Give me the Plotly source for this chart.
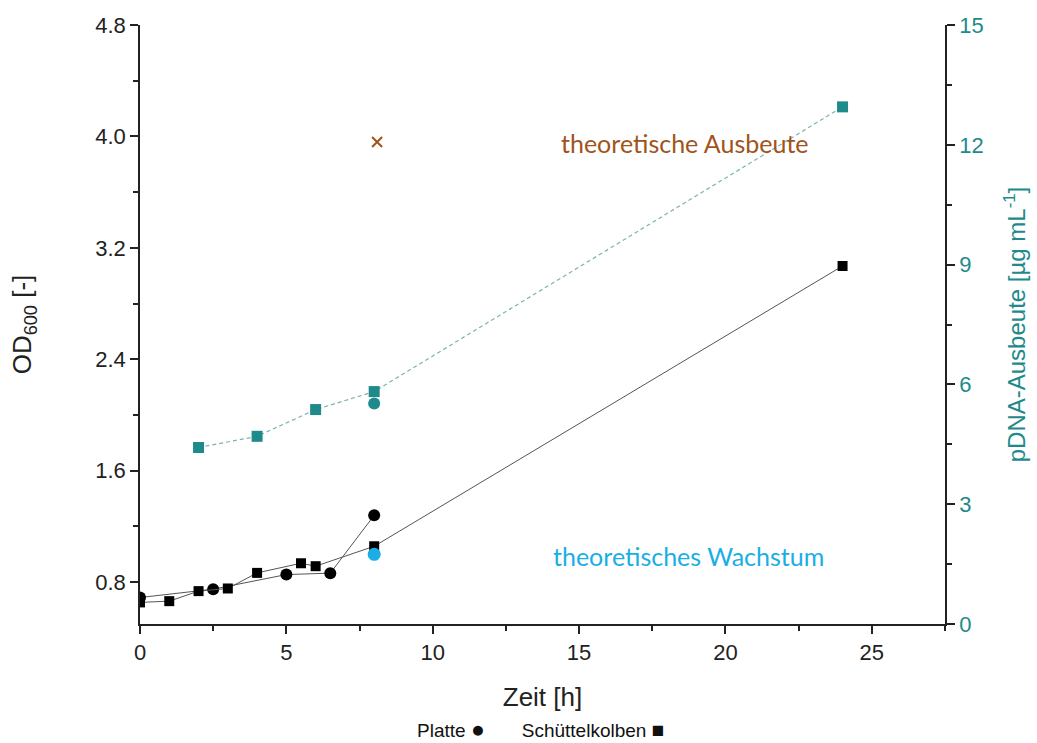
import plotly.graph_objects as go

# Data
platte_t = [0, 2.5, 5, 6.5, 8]
platte_od = [0.69, 0.75, 0.855, 0.865, 1.28]

kolben_t = [0, 1, 2, 3, 4, 5.5, 6, 8, 24]
kolben_od = [0.655, 0.664, 0.736, 0.755, 0.867, 0.936, 0.915, 1.058, 3.07]

theo_growth_t = [8]
theo_growth_od = [1.0]

pdna_t = [2, 4, 6, 8, 24]
pdna_yield = [4.42, 4.70, 5.37, 5.82, 12.95]

pdna_platte_t = [8]
pdna_platte_yield = [5.52]

theo_yield_t = [8.1]
theo_yield = [12.07]

TEAL = "#1E8A8A"
BROWN = "#A0541C"
CYAN = "#1AAEE6"
FONT = "Liberation Sans, Arial, sans-serif"

fig = go.Figure()

fig.add_trace(go.Scatter(x=platte_t, y=platte_od, mode="lines+markers",
                         line=dict(color="#555555", width=1),
                         marker=dict(symbol="circle", size=12, color="black"),
                         name="Platte", showlegend=False))
fig.add_trace(go.Scatter(x=kolben_t, y=kolben_od, mode="lines+markers",
                         line=dict(color="#555555", width=1),
                         marker=dict(symbol="square", size=10, color="black"),
                         name="Schüttelkolben", showlegend=False))
fig.add_trace(go.Scatter(x=theo_growth_t, y=theo_growth_od, mode="markers",
                         marker=dict(symbol="circle", size=13, color=CYAN),
                         showlegend=False))
fig.add_trace(go.Scatter(x=pdna_t, y=pdna_yield, mode="lines+markers", yaxis="y2",
                         line=dict(color="#7DB3AE", width=1.2, dash="4px,3px"),
                         marker=dict(symbol="square", size=11, color=TEAL),
                         showlegend=False))
fig.add_trace(go.Scatter(x=pdna_platte_t, y=pdna_platte_yield, mode="markers", yaxis="y2",
                         marker=dict(symbol="circle", size=12, color=TEAL),
                         showlegend=False))
fig.add_trace(go.Scatter(x=theo_yield_t, y=theo_yield, mode="markers", yaxis="y2",
                         marker=dict(symbol="x-thin", size=10, color=BROWN,
                                     line=dict(color=BROWN, width=2)),
                         showlegend=False))

fig.update_layout(
    width=1037, height=743,
    margin=dict(l=140, r=92, t=25, b=119),
    plot_bgcolor="white", paper_bgcolor="white",
    font=dict(family=FONT, size=21, color="#222222"),
    xaxis=dict(range=[0, 27.5], tickvals=[0, 5, 10, 15, 20, 25],
               tickfont=dict(size=22),
               ticks="outside", ticklen=8, tickwidth=1.5, tickcolor="#222222",
               minor=dict(dtick=2.5, ticks="outside", ticklen=5, tickcolor="#222222"),
               showline=True, linecolor="#222222", linewidth=1.5,
               showgrid=False, zeroline=False,
               title=dict(text="Zeit [h]", font=dict(size=26), standoff=24)),
    yaxis=dict(range=[0.5, 4.8], tickvals=[0.8, 1.6, 2.4, 3.2, 4.0, 4.8],
               ticktext=["0.8", "1.6", "2.4", "3.2", "4.0", "4.8"],
               tickfont=dict(size=22),
               ticks="outside", ticklen=8, tickwidth=1.5, tickcolor="#222222",
               minor=dict(tickvals=[1.2, 2.0, 2.8, 3.6, 4.4], ticks="outside", ticklen=5,
                          tickcolor="#222222"),
               showline=True, linecolor="#222222", linewidth=1.5,
               showgrid=False, zeroline=False,
               title=dict(text="OD<sub>600</sub> [-]", font=dict(size=26), standoff=56)),
    yaxis2=dict(range=[0, 15], tickvals=[0, 3, 6, 9, 12, 15], overlaying="y", side="right",
                ticks="outside", ticklen=8, tickwidth=1.5, tickcolor="#222222",
                minor=dict(tickvals=[1.5, 4.5, 7.5, 10.5, 13.5], ticks="outside", ticklen=5,
                           tickcolor="#222222"),
                showline=True, linecolor="#222222", linewidth=1.5,
                showgrid=False, zeroline=False,
                tickfont=dict(color=TEAL, size=22),
                title=dict(text="pDNA-Ausbeute [µg mL<sup>-1</sup>]",
                           font=dict(color=TEAL, size=24), standoff=26)),
)

fig.add_annotation(x=18.6, y=12.05, xref="x", yref="y2", text="theoretische Ausbeute",
                   showarrow=False, font=dict(family="Lato, sans-serif", size=25, color=BROWN))
fig.add_annotation(x=18.75, y=0.99, xref="x", yref="y", text="theoretisches Wachstum",
                   showarrow=False, font=dict(family="Lato, sans-serif", size=25, color=CYAN))
fig.add_annotation(x=0.497, y=-0.176, xref="paper", yref="paper", yanchor="middle",
                   text="Platte <span style='font-size:23px'>●</span>       "
                        "Schüttelkolben <span style='font-size:21px'>■</span>",
                   showarrow=False, font=dict(size=19, color="#111111"))

fig.write_html("out.html")
